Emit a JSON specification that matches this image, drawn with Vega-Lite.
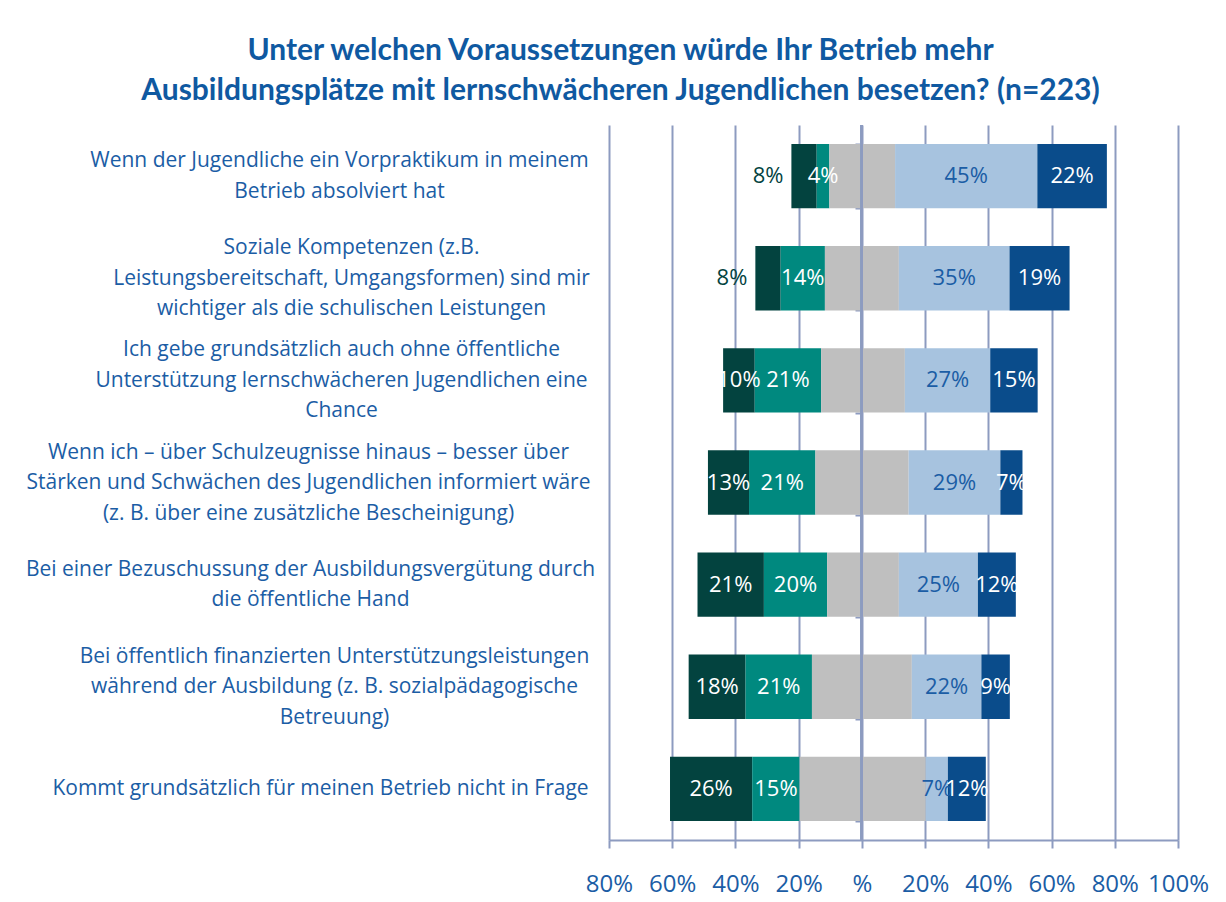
{
  "$schema": "https://vega.github.io/schema/vega-lite/v6.json",
  "width": 569,
  "height": 715,
  "autosize": {"type": "none"},
  "padding": {"left": 609, "top": 125, "right": 48, "bottom": 62},
  "background": "white",
  "config": {"view": {"stroke": null}},
  "title": {
    "text": ["Unter welchen Voraussetzungen würde Ihr Betrieb mehr", "Ausbildungsplätze mit lernschwächeren Jugendlichen besetzen? (n=223)"],
    "font": "Lato",
    "fontSize": 30,
    "fontWeight": "bold",
    "color": "#0F59A1",
    "anchor": "middle",
    "frame": "group",
    "dx": -273,
    "lineHeight": 40,
    "offset": 18
  },
  "data": {
    "values": [
      {"item": "Wenn der Jugendliche ein Vorpraktikum  in meinem|Betrieb absolviert hat", "cat": "3 nein", "value": -8},
      {"item": "Wenn der Jugendliche ein Vorpraktikum  in meinem|Betrieb absolviert hat", "cat": "2 eher nein", "value": -4},
      {"item": "Wenn der Jugendliche ein Vorpraktikum  in meinem|Betrieb absolviert hat", "cat": "1 teils links", "value": -10.3},
      {"item": "Wenn der Jugendliche ein Vorpraktikum  in meinem|Betrieb absolviert hat", "cat": "1 teils rechts", "value": 10.5},
      {"item": "Wenn der Jugendliche ein Vorpraktikum  in meinem|Betrieb absolviert hat", "cat": "2 eher ja", "value": 45},
      {"item": "Wenn der Jugendliche ein Vorpraktikum  in meinem|Betrieb absolviert hat", "cat": "3 ja", "value": 22},

      {"item": "Soziale Kompetenzen (z.B.|Leistungsbereitschaft, Umgangsformen) sind mir|wichtiger als die schulischen Leistungen", "cat": "3 nein", "value": -8},
      {"item": "Soziale Kompetenzen (z.B.|Leistungsbereitschaft, Umgangsformen) sind mir|wichtiger als die schulischen Leistungen", "cat": "2 eher nein", "value": -14},
      {"item": "Soziale Kompetenzen (z.B.|Leistungsbereitschaft, Umgangsformen) sind mir|wichtiger als die schulischen Leistungen", "cat": "1 teils links", "value": -11.7},
      {"item": "Soziale Kompetenzen (z.B.|Leistungsbereitschaft, Umgangsformen) sind mir|wichtiger als die schulischen Leistungen", "cat": "1 teils rechts", "value": 11.7},
      {"item": "Soziale Kompetenzen (z.B.|Leistungsbereitschaft, Umgangsformen) sind mir|wichtiger als die schulischen Leistungen", "cat": "2 eher ja", "value": 35},
      {"item": "Soziale Kompetenzen (z.B.|Leistungsbereitschaft, Umgangsformen) sind mir|wichtiger als die schulischen Leistungen", "cat": "3 ja", "value": 19},

      {"item": "Ich gebe grundsätzlich auch ohne öffentliche|Unterstützung lernschwächeren Jugendlichen eine|Chance", "cat": "3 nein", "value": -10},
      {"item": "Ich gebe grundsätzlich auch ohne öffentliche|Unterstützung lernschwächeren Jugendlichen eine|Chance", "cat": "2 eher nein", "value": -21},
      {"item": "Ich gebe grundsätzlich auch ohne öffentliche|Unterstützung lernschwächeren Jugendlichen eine|Chance", "cat": "1 teils links", "value": -12.9},
      {"item": "Ich gebe grundsätzlich auch ohne öffentliche|Unterstützung lernschwächeren Jugendlichen eine|Chance", "cat": "1 teils rechts", "value": 13.6},
      {"item": "Ich gebe grundsätzlich auch ohne öffentliche|Unterstützung lernschwächeren Jugendlichen eine|Chance", "cat": "2 eher ja", "value": 27},
      {"item": "Ich gebe grundsätzlich auch ohne öffentliche|Unterstützung lernschwächeren Jugendlichen eine|Chance", "cat": "3 ja", "value": 15},

      {"item": "Wenn ich – über Schulzeugnisse hinaus – besser über|Stärken und Schwächen des Jugendlichen informiert wäre|(z. B. über eine zusätzliche Bescheinigung)", "cat": "3 nein", "value": -13},
      {"item": "Wenn ich – über Schulzeugnisse hinaus – besser über|Stärken und Schwächen des Jugendlichen informiert wäre|(z. B. über eine zusätzliche Bescheinigung)", "cat": "2 eher nein", "value": -21},
      {"item": "Wenn ich – über Schulzeugnisse hinaus – besser über|Stärken und Schwächen des Jugendlichen informiert wäre|(z. B. über eine zusätzliche Bescheinigung)", "cat": "1 teils links", "value": -14.7},
      {"item": "Wenn ich – über Schulzeugnisse hinaus – besser über|Stärken und Schwächen des Jugendlichen informiert wäre|(z. B. über eine zusätzliche Bescheinigung)", "cat": "1 teils rechts", "value": 14.8},
      {"item": "Wenn ich – über Schulzeugnisse hinaus – besser über|Stärken und Schwächen des Jugendlichen informiert wäre|(z. B. über eine zusätzliche Bescheinigung)", "cat": "2 eher ja", "value": 29},
      {"item": "Wenn ich – über Schulzeugnisse hinaus – besser über|Stärken und Schwächen des Jugendlichen informiert wäre|(z. B. über eine zusätzliche Bescheinigung)", "cat": "3 ja", "value": 7},

      {"item": "Bei einer Bezuschussung der Ausbildungsvergütung durch|die öffentliche Hand", "cat": "3 nein", "value": -21},
      {"item": "Bei einer Bezuschussung der Ausbildungsvergütung durch|die öffentliche Hand", "cat": "2 eher nein", "value": -20},
      {"item": "Bei einer Bezuschussung der Ausbildungsvergütung durch|die öffentliche Hand", "cat": "1 teils links", "value": -11},
      {"item": "Bei einer Bezuschussung der Ausbildungsvergütung durch|die öffentliche Hand", "cat": "1 teils rechts", "value": 11.7},
      {"item": "Bei einer Bezuschussung der Ausbildungsvergütung durch|die öffentliche Hand", "cat": "2 eher ja", "value": 25},
      {"item": "Bei einer Bezuschussung der Ausbildungsvergütung durch|die öffentliche Hand", "cat": "3 ja", "value": 12},

      {"item": "Bei öffentlich finanzierten Unterstützungsleistungen|während der Ausbildung (z. B. sozialpädagogische|Betreuung)", "cat": "3 nein", "value": -18},
      {"item": "Bei öffentlich finanzierten Unterstützungsleistungen|während der Ausbildung (z. B. sozialpädagogische|Betreuung)", "cat": "2 eher nein", "value": -21},
      {"item": "Bei öffentlich finanzierten Unterstützungsleistungen|während der Ausbildung (z. B. sozialpädagogische|Betreuung)", "cat": "1 teils links", "value": -15.8},
      {"item": "Bei öffentlich finanzierten Unterstützungsleistungen|während der Ausbildung (z. B. sozialpädagogische|Betreuung)", "cat": "1 teils rechts", "value": 15.8},
      {"item": "Bei öffentlich finanzierten Unterstützungsleistungen|während der Ausbildung (z. B. sozialpädagogische|Betreuung)", "cat": "2 eher ja", "value": 22},
      {"item": "Bei öffentlich finanzierten Unterstützungsleistungen|während der Ausbildung (z. B. sozialpädagogische|Betreuung)", "cat": "3 ja", "value": 9},

      {"item": "Kommt grundsätzlich für meinen Betrieb nicht in Frage", "cat": "3 nein", "value": -26},
      {"item": "Kommt grundsätzlich für meinen Betrieb nicht in Frage", "cat": "2 eher nein", "value": -15},
      {"item": "Kommt grundsätzlich für meinen Betrieb nicht in Frage", "cat": "1 teils links", "value": -19.7},
      {"item": "Kommt grundsätzlich für meinen Betrieb nicht in Frage", "cat": "1 teils rechts", "value": 20.2},
      {"item": "Kommt grundsätzlich für meinen Betrieb nicht in Frage", "cat": "2 eher ja", "value": 7},
      {"item": "Kommt grundsätzlich für meinen Betrieb nicht in Frage", "cat": "3 ja", "value": 12}
    ]
  },
  "transform": [
    {"calculate": "format(abs(datum.value), 'd') + '%'", "as": "lbl"}
  ],
  "resolve": {"axis": {"y": "independent"}},
  "layer": [
    {
      "mark": {"type": "bar"},
      "encoding": {
        "y": {
          "field": "item",
          "type": "nominal",
          "sort": null,
          "scale": {"paddingInner": 0.37, "paddingOuter": 0.185},
          "axis": {
            "title": null,
            "orient": "left",
            "grid": false,
            "domain": false,
            "ticks": false,
            "tickSize": 0,
            "labelExpr": "split(datum.label, '|')",
            "labelFont": "Open Sans",
            "labelFontSize": 21,
            "labelColor": "#1B5DA5",
            "labelLineHeight": 30.5,
            "labelAlign": "center",
            "labelBaseline": "middle",
            "labelLimit": 0,
            "labelOverlap": false,
            "labelPadding": 289,
            "encoding": {
              "labels": {
                "dx": {
                  "condition": [
                    {"test": "indexof(datum.value, 'Vorpraktikum') >= 0", "value": 19},
                    {"test": "indexof(datum.value, 'Soziale') >= 0", "value": 31},
                    {"test": "indexof(datum.value, 'Ich gebe') >= 0", "value": 21},
                    {"test": "indexof(datum.value, 'Schulzeugnisse') >= 0", "value": -12},
                    {"test": "indexof(datum.value, 'Bezuschussung') >= 0", "value": -10},
                    {"test": "indexof(datum.value, 'finanzierten') >= 0", "value": 14}
                  ],
                  "value": 0
                },
                "dy": {
                  "condition": [
                    {"test": "indexof(datum.value, 'Vorpraktikum') >= 0", "value": -15},
                    {"test": "indexof(datum.value, 'Soziale') >= 0", "value": -30},
                    {"test": "indexof(datum.value, 'Ich gebe') >= 0", "value": -30},
                    {"test": "indexof(datum.value, 'Schulzeugnisse') >= 0", "value": -30},
                    {"test": "indexof(datum.value, 'Bezuschussung') >= 0", "value": -15},
                    {"test": "indexof(datum.value, 'finanzierten') >= 0", "value": -30}
                  ],
                  "value": 0
                }
              }
            }
          }
        },
        "x": {
          "field": "value",
          "type": "quantitative",
          "stack": "zero",
          "scale": {"domain": [-80, 100], "nice": false},
          "axis": {
            "title": null,
            "values": [-80, -60, -40, -20, 0, 20, 40, 60, 80, 100],
            "labelExpr": "datum.value == 0 ? '%' : abs(datum.value) + '%'",
            "grid": true,
            "gridColor": "#8D9BC0",
            "gridWidth": 2,
            "domainColor": "#8D9BC0",
            "domainWidth": 2,
            "tickColor": "#8D9BC0",
            "tickWidth": 2,
            "tickSize": 8,
            "labelFont": "Open Sans",
            "labelFontSize": 24,
            "labelColor": "#1B5DA5",
            "labelPadding": 24,
            "labelFlush": false,
            "labelOverlap": false
          }
        },
        "color": {
          "field": "cat",
          "type": "nominal",
          "scale": {
            "domain": ["3 nein", "2 eher nein", "1 teils links", "1 teils rechts", "2 eher ja", "3 ja"],
            "range": ["#03433F", "#00897F", "#BFBFBF", "#BFBFBF", "#A7C3DF", "#0A4C8B"]
          },
          "legend": null
        },
        "order": {"field": "cat", "sort": "ascending"}
      }
    },
    {
      "mark": {"type": "rule", "color": "#8D9BC0", "strokeWidth": 2},
      "encoding": {"x": {"datum": 0}}
    },
    {
      "mark": {"type": "text", "font": "Open Sans", "fontSize": 22, "align": "center", "baseline": "middle"},
      "encoding": {
        "y": {
          "field": "item",
          "type": "nominal",
          "sort": null,
          "axis": {
            "title": null,
            "orient": "right",
            "offset": -316,
            "grid": false,
            "domain": false,
            "labels": false,
            "ticks": true,
            "tickBand": "extent",
            "tickColor": "#8D9BC0",
            "tickWidth": 2,
            "tickSize": -7
          }
        },
        "x": {"field": "value", "type": "quantitative", "stack": "zero", "bandPosition": 0.5},
        "detail": {"field": "cat"},
        "order": {"field": "cat", "sort": "ascending"},
        "text": {
          "condition": {"test": "indexof(datum.cat, 'teils') < 0 && !(datum.cat == '3 nein' && datum.value > -9)", "field": "lbl"},
          "value": ""
        },
        "color": {
          "condition": {"test": "datum.cat == '2 eher ja'", "value": "#1B5DA5"},
          "value": "white"
        }
      }
    },
    {
      "mark": {"type": "text", "font": "Open Sans", "fontSize": 22, "align": "right", "baseline": "middle", "dx": -8, "color": "#03433F"},
      "encoding": {
        "y": {"field": "item", "type": "nominal", "sort": null, "axis": null},
        "x": {"field": "value", "type": "quantitative", "stack": "zero"},
        "detail": {"field": "cat"},
        "order": {"field": "cat", "sort": "ascending"},
        "text": {
          "condition": {"test": "datum.cat == '3 nein' && datum.value > -9", "field": "lbl"},
          "value": ""
        }
      }
    }
  ]
}
